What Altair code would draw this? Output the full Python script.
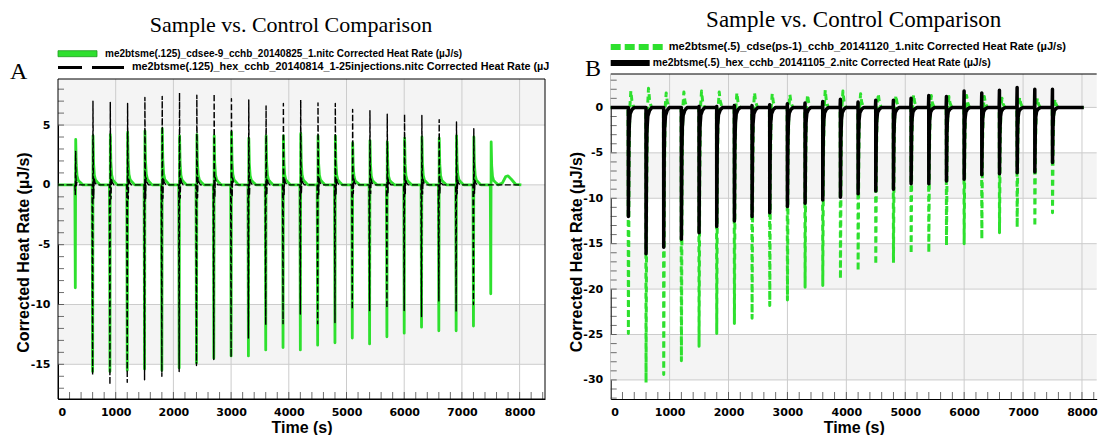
import altair as alt
import pandas as pd

# ---------------- data ----------------
# Panel A
A_TIMES_SAMPLE = [300, 600, 900, 1200, 1500, 1800, 2100, 2400, 2700, 3000, 3300, 3600, 3900,
                  4200, 4500, 4800, 5100, 5400, 5700, 6000, 6300, 6600, 6900, 7200, 7500]
A_SAMPLE_MIN = [-8.6, -15.6, -15.6, -15.5, -15.4, -15.5, -15.3, -14.9, -14.5, -14.3, -14.3, -13.8, -13.6,
                -13.8, -13.4, -13.2, -12.8, -13.3, -12.7, -12.4, -11.9, -12.2, -12.2, -11.8, -9.1]
A_SAMPLE_MAX = [3.8, 4.1, 4.2, 4.4, 4.5, 4.7, 4.1, 4.2, 4.1, 4.4, 3.9, 4.1, 4.1,
                4.3, 4.1, 4.1, 3.5, 3.7, 3.6, 3.9, 4.0, 3.9, 4.1, 4.0, 3.6]
A_SAMPLE_TAIL_T = [7700, 7760, 7800, 7860, 7930]
A_SAMPLE_TAIL_V = [0.15, 0.7, 0.75, 0.45, 0.05]
A_TIMES_CONTROL = [300, 600, 900, 1200, 1500, 1800, 2100, 2400, 2700, 3000, 3300, 3600, 3900,
                   4200, 4500, 4800, 5100, 5400, 5700, 6000, 6300, 6600, 6900, 7200]
A_CONTROL_MIN = [-0.8, -15.9, -16.7, -16.5, -16.3, -16.0, -15.6, -15.1, -14.6, -14.4, -12.8, -11.7, -11.6,
                 -10.8, -11.6, -11.5, -10.4, -10.5, -10.3, -10.5, -11.0, -9.7, -10.6, -10.0]
A_CONTROL_MAX = [2.8, 7.0, 6.9, 6.8, 7.3, 7.4, 7.7, 7.5, 7.6, 7.2, 7.1, 6.6, 6.8,
                 7.1, 6.85, 6.8, 6.3, 6.2, 5.9, 5.9, 5.8, 5.45, 5.25, 4.7]
# typical peak profile (offset in s, weight of the minimum, weight of the maximum)
A_SAMPLE_OFF = [-8, 0, 7, 16, 30, 50, 80, 130]
A_SAMPLE_KMIN = [0, 1, 0, 0, 0, 0, 0, 0]
A_SAMPLE_KMAX = [0, 0, 1, 0.45, 0.2, 0.1, 0.06, 0]
A_CONTROL_OFF = [-8, 0, 6, 12, 18, 26, 40, 70]
A_CONTROL_KMIN = [0, 1, 0, 0, 0.07, 0, 0, 0]
A_CONTROL_KMAX = [0, 0, 1, 0.2, 0, 0.08, 0.03, 0]

# Panel B
B_TIMES = [300, 600, 900, 1200, 1500, 1800, 2100, 2400, 2700, 3000, 3300, 3600, 3900,
           4200, 4500, 4800, 5100, 5400, 5700, 6000, 6300, 6600, 6900, 7200, 7500]
B_SAMPLE_MIN = [-24.9, -30.3, -29.4, -27.9, -26.3, -24.9, -23.8, -23.2, -21.8, -21.2, -19.8, -19.6, -18.9,
                -18.0, -17.3, -17.1, -16.1, -16.0, -15.2, -15.0, -14.5, -13.8, -13.2, -13.1, -11.6]
B_SAMPLE_MAX = [1.8, 2.1, 1.6, 1.7, 1.8, 1.7, 1.6, 1.6, 1.5, 1.4, 1.4, 1.9, 1.8,
                1.5, 1.5, 1.3, 1.4, 1.3, 1.2, 1.3, 1.2, 1.0, 1.1, 1.0, 0.9]
B_CONTROL_MIN = [-12.0, -16.1, -15.4, -14.5, -13.8, -13.1, -12.5, -12.0, -11.6, -10.9, -10.55, -10.2, -9.9,
                 -9.5, -9.2, -9.0, -8.4, -8.4, -8.1, -7.9, -7.4, -7.3, -7.2, -7.1, -6.05]
B_CONTROL_MAX = [0, 0, 0, 0, 0.1, 0.1, 0.2, 0.2, 0.3, 0.4, 0.5, 0.65, 0.9,
                 0.6, 0.8, 0.8, 1.0, 1.3, 1.2, 1.8, 1.6, 1.9, 2.2, 2.0, 2.0]
B_SAMPLE_OFF = [-6, 0, 12, 25, 42, 60, 90]
B_SAMPLE_KMIN = [0, 1, 0.3, 0, 0, 0, 0]
B_SAMPLE_KMAX = [0, 0, 0, 0, 1, 0.4, 0]
B_CONTROL_OFF = [-6, -1, 0, 8, 16, 30, 60, 100]
B_CONTROL_KMIN = [0, 0, 1, 0.35, 0.15, 0.06, 0.02, 0]
B_CONTROL_KMAX = [0, 1, 0, 0, 0, 0, 0, 0]

TITLE = "Sample vs. Control Comparison"
A_LEG1 = "me2btsme(.125)_cdsee-9_cchb_20140825_1.nitc Corrected Heat Rate (µJ/s)"
A_LEG2 = "me2btsme(.125)_hex_cchb_20140814_1-25injections.nitc Corrected Heat Rate (µJ"
B_LEG1 = "me2btsme(.5)_cdse(ps-1)_cchb_20141120_1.nitc Corrected Heat Rate (µJ/s)"
B_LEG2 = "me2btsme(.5)_hex_cchb_20141105_2.nitc Corrected Heat Rate (µJ/s)"
Y_TITLE = "Corrected Heat Rate (µJ/s)"
X_TITLE = "Time (s)"

X_LABELS = [0, 1000, 2000, 3000, 4000, 5000, 6000, 7000, 8000]
X_GRID = [1000, 2000, 3000, 4000, 5000, 6000, 7000, 8000]
A_Y_LABELS = [-15, -10, -5, 0, 5]
B_Y_LABELS = [-30, -25, -20, -15, -10, -5, 0]
A_BANDS_LO = [5, -5, -15]
A_BANDS_HI = [8.85, 0, -10]
B_BANDS_LO = [0, -10, -20, -30]
B_BANDS_HI = [3.68, -5, -15, -25]
A_X_MINOR = list(range(200, 8401, 200))
B_X_MINOR = list(range(200, 8201, 200))
A_Y_MINOR = list(range(-17, 9))
B_Y_MINOR = list(range(-32, 4))

GREEN = "#2ee02e"
GRID = "#cccccc"
BAND = "#f4f4f4"
SANS = "Liberation Sans"
SERIF = "Liberation Serif"


def series(times, lows, highs, offs, kl, kh, t0, t1, tail_t=(), tail_v=()):
    ts, vs = [t0], [0.0]
    for t, lo, hi in zip(times, lows, highs):
        for o, a, b in zip(offs, kl, kh):
            ts.append(t + o)
            vs.append(a * lo + b * hi)
    ts += list(tail_t)
    vs += list(tail_v)
    ts.append(t1)
    vs.append(0.0)
    return pd.DataFrame({"t": ts, "v": vs})


def one():
    return pd.DataFrame({"a": [0]})


def txt(s, x, y, size, font, weight="normal", align="left", baseline="middle"):
    return alt.Chart(pd.DataFrame({"s": [s]})).mark_text(
        align=align, baseline=baseline, font=font, fontSize=size, fontWeight=weight, color="black"
    ).encode(x=alt.value(x), y=alt.value(y), text="s:N")


def hrule(x0, x1, y, color, width, dash=None):
    kw = dict(color=color, strokeWidth=width)
    if dash is not None:
        kw["strokeDash"] = dash
    return alt.Chart(one()).mark_rule(**kw).encode(x=alt.value(x0), x2=alt.value(x1), y=alt.value(y))


def panel(W, H, xdom, ydom, yrange, bands_lo, bands_hi, ylabels, xminor, yminor,
          sample_df, control_df, sample_style, control_style, ytitle_x, ytitle_y, right_border):
    xs = alt.Scale(domain=xdom, nice=False, zero=False)
    ys = alt.Scale(domain=ydom, range=yrange, nice=False, zero=False)

    xaxis = alt.Axis(values=X_LABELS, grid=False, ticks=False, domainColor="black", domainWidth=1,
                     labelFont="DejaVu Sans", labelFontWeight="bold", labelFontSize=11, labelColor="black",
                     labelPadding=7, labelExpr="'' + datum.value",
                     title=X_TITLE, titleFont=SANS, titleFontSize=16, titleFontWeight="bold", titleColor="black",
                     titleY=33, titleBaseline="alphabetic")
    yaxis = alt.Axis(values=ylabels, grid=False, ticks=False, domainColor="black", domainWidth=1,
                     labelFont="DejaVu Sans", labelFontWeight="bold", labelFontSize=11, labelColor="black",
                     labelPadding=8, labelExpr="'' + datum.value",
                     title=Y_TITLE, titleFont=SANS, titleFontSize=16, titleFontWeight="bold", titleColor="black",
                     titleX=ytitle_x, titleY=ytitle_y, titleBaseline="middle", titleAlign="center")

    X = lambda f: alt.X(f, scale=xs, axis=xaxis)
    Y = lambda f: alt.Y(f, scale=ys, axis=yaxis)

    bands = alt.Chart(pd.DataFrame({"lo": bands_lo, "hi": bands_hi})).mark_rect(color=BAND).encode(
        y=Y("lo:Q"), y2="hi:Q", x=alt.value(0), x2=alt.value(W))
    gx = alt.Chart(pd.DataFrame({"t": X_GRID, "y0": [ydom[0]] * len(X_GRID), "y1": [ydom[1]] * len(X_GRID)})
                   ).mark_rule(color=GRID, strokeWidth=1).encode(x=X("t:Q"), y=Y("y0:Q"), y2="y1:Q")
    gy = alt.Chart(pd.DataFrame({"v": ylabels})).mark_rule(color=GRID, strokeWidth=1).encode(y=Y("v:Q"))
    tx = alt.Chart(pd.DataFrame({"t": xminor})).mark_tick(orient="vertical", size=7, thickness=1, color="#333333").encode(
        x=X("t:Q"), y=alt.value(H - 3.5))
    ty = alt.Chart(pd.DataFrame({"v": yminor})).mark_tick(orient="horizontal", size=6, thickness=1, color="#333333").encode(
        y=Y("v:Q"), x=alt.value(3))

    s_line = alt.Chart(sample_df).mark_line(strokeJoin="round", **sample_style).encode(x=X("t:Q"), y=Y("v:Q"))
    c_line = alt.Chart(control_df).mark_line(strokeJoin="round", **control_style).encode(x=X("t:Q"), y=Y("v:Q"))

    bdf = pd.DataFrame({"x0": [xdom[0]], "x1": [xdom[1]], "y0": [ydom[0]], "y1": [ydom[1]]})
    if right_border:
        border = alt.Chart(bdf).mark_rect(fillOpacity=0, stroke="black", strokeWidth=1).encode(
            x=X("x0:Q"), x2="x1:Q", y=Y("y0:Q"), y2="y1:Q")
    else:
        border = alt.Chart(bdf).mark_rule(color="black", strokeWidth=1).encode(y=Y("y1:Q"))
    return [bands, gx, gy, tx, ty, s_line, c_line, border], W, H


a_sample = series(A_TIMES_SAMPLE, A_SAMPLE_MIN, A_SAMPLE_MAX, A_SAMPLE_OFF, A_SAMPLE_KMIN, A_SAMPLE_KMAX,
                  0, 8030, A_SAMPLE_TAIL_T, A_SAMPLE_TAIL_V)
a_control = series(A_TIMES_CONTROL, A_CONTROL_MIN, A_CONTROL_MAX, A_CONTROL_OFF, A_CONTROL_KMIN, A_CONTROL_KMAX,
                   0, 8000)
b_sample = series(B_TIMES, B_SAMPLE_MIN, B_SAMPLE_MAX, B_SAMPLE_OFF, B_SAMPLE_KMIN, B_SAMPLE_KMAX, 0, 8030)
b_control = series(B_TIMES, B_CONTROL_MIN, B_CONTROL_MAX, B_CONTROL_OFF, B_CONTROL_KMIN, B_CONTROL_KMAX, 0, 8030)

# Panel A
a_layers, AW, AH = panel(487, 325, [0, 8440], [-17.9, 8.85], [325, 5], A_BANDS_LO, A_BANDS_HI, A_Y_LABELS,
                         A_X_MINOR, A_Y_MINOR, a_sample, a_control,
                         dict(color=GREEN, strokeWidth=2.8),
                         dict(color="black", strokeWidth=1.4, strokeDash=[6, 2.5]),
                         -35, 178, True)
a_deco = [
    txt(TITLE, 233, -42, 22, SERIF, align="center", baseline="alphabetic"),
    txt("A", -48, 4.7, 24, SERIF, baseline="alphabetic"),
    alt.Chart(one()).mark_rect(color=GREEN, stroke="#1f9a1f", strokeWidth=0.8).encode(
        x=alt.value(0), x2=alt.value(39), y=alt.value(-23.3), y2=alt.value(-17.3)),
    txt(A_LEG1, 47, -20.3, 10, SANS, weight="bold"),
    hrule(0, 66, -6.6, "black", 3, [24, 10, 32, 10]),
    txt(A_LEG2, 74, -6.6, 10.8, SANS, weight="bold"),
    hrule(-57.5, -56.5, -72.8, "white", 1),
]
chartA = alt.layer(*a_layers, *a_deco).properties(width=AW, height=AH)

# Panel B
b_layers, BW, BH = panel(486, 325, [0, 8250], [-32.1, 3.68], [325, 0], B_BANDS_LO, B_BANDS_HI, B_Y_LABELS,
                         B_X_MINOR, B_Y_MINOR, b_sample, b_control,
                         dict(color=GREEN, strokeWidth=3, strokeDash=[6, 4]),
                         dict(color="black", strokeWidth=3.5),
                         -34.5, 177.5, False)
b_deco = [
    txt(TITLE, 243, -47, 23, SERIF, align="center", baseline="alphabetic"),
    txt("B", -25.7, 1.7, 24, SERIF, baseline="alphabetic"),
    hrule(0, 52, -27, GREEN, 6, [10, 4]),
    txt(B_LEG1, 58, -27, 11.1, SANS, weight="bold"),
    hrule(0, 39, -11, "black", 6),
    txt(B_LEG2, 42, -11, 10.4, SANS, weight="bold"),
]
chartB = alt.layer(*b_layers, *b_deco).properties(width=BW, height=BH)

chart = alt.hconcat(chartA, chartB, spacing=65.7, bounds="flush").properties(
    padding=0, background="white"
).configure_view(strokeWidth=0)

chart.save("out.html", embed_options={"renderer": "svg", "actions": False})
